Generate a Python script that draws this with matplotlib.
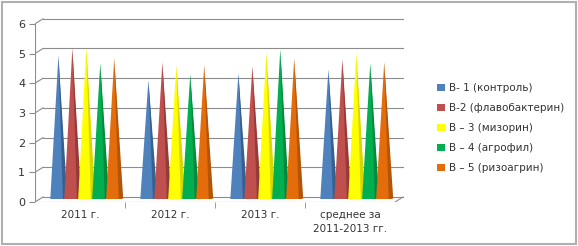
import numpy as np
import matplotlib
matplotlib.use("Agg")
import matplotlib.pyplot as plt
from matplotlib.patches import Rectangle

# data
categories = ["2011 г.", "2012 г.", "2013 г.", "среднее за\n2011-2013 гг."]
series = ["В- 1 (контроль)", "В-2 (флавобактерин)", "В – 3 (мизорин)",
          "В – 4 (агрофил)", "В – 5 (ризоагрин)"]
v1 = [4.83, 4.0, 4.23, 4.36]
v2 = [5.07, 4.6, 4.46, 4.7]
v3 = [5.1, 4.5, 4.93, 4.9]
v4 = [4.56, 4.2, 5.03, 4.56]
v5 = [4.73, 4.5, 4.73, 4.6]
values = [v1, v2, v3, v4, v5]
yticks = [0, 1, 2, 3, 4, 5, 6]

colors = ["#4F81BD", "#C0504D", "#FFFF00", "#00B050", "#E46C0A"]
darks = ["#36618F", "#963A37", "#D6D600", "#008A3E", "#B35507"]

plt.rcParams['font.family'] = ['DejaVu Sans']
fig = plt.figure(figsize=(5.78, 2.46), dpi=100)
ax = fig.add_axes([35 / 578, 44 / 246, 369 / 578, 6.3 * 29.7 / 246])
ax.set_xlim(-0.5, 3.6)
ax.set_ylim(0, 6.3)

dx, dy = 0.09, 0.17
grid_c = "#8C8C8C"
# back wall gridlines + connectors
for t in yticks:
    ax.plot([-0.5 + dx, 3.5 + dx], [t + dy, t + dy], color=grid_c, lw=0.8, zorder=1)
    ax.plot([-0.5, -0.5 + dx], [t, t + dy], color=grid_c, lw=0.8, zorder=1)
ax.plot([-0.5, 3.5], [0, 0], color=grid_c, lw=0.8, zorder=1)
ax.plot([3.5, 3.5 + dx], [0, dy], color=grid_c, lw=0.8, zorder=1)
ax.plot([-0.5, -0.5], [0, 6], color=grid_c, lw=0.8, zorder=1)

# cones
hw = 0.09
base = 0.1
x = np.arange(len(categories))
for j, vals in enumerate(values):
    for i, v in enumerate(vals):
        cx = x[i] + 0.07 + (j - 2) * 0.155
        ax.fill([cx - hw, cx, cx + hw], [base, v + base, base],
                color=colors[j], lw=0, zorder=3 + j)
        ax.fill([cx + 0.05, cx, cx + hw + 0.01], [base, v + base, base + 0.02],
                color=darks[j], lw=0, zorder=3 + j)
    ax.bar([0], [0], color=colors[j], label=series[j])

for s in ax.spines.values():
    s.set_visible(False)
ax.set_yticks(yticks)
ax.tick_params(axis='y', length=4, color=grid_c, labelsize=8, pad=3, labelcolor="#333333")
ax.set_xticks(x)
ax.set_xticklabels(categories, fontsize=7.5, color="#333333", linespacing=1.4)
ax.tick_params(axis='x', length=0, pad=6)
ax.set_xticks(x[:-1] + 0.5, minor=True)
ax.tick_params(axis='x', which='minor', length=4, color=grid_c)

leg = fig.legend(loc='upper left', bbox_to_anchor=(428 / 578, 1 - 74 / 246),
                 frameon=False, fontsize=7.5, handlelength=0.7, handleheight=0.7,
                 handletextpad=0.4, labelspacing=0.95, labelcolor="#333333")

fig.patches.append(Rectangle((0.004, 0.008), 0.992, 0.984, transform=fig.transFigure,
                             fill=False, edgecolor="#B0B0B0", lw=1.5))
fig.savefig("out.png", dpi=100)
